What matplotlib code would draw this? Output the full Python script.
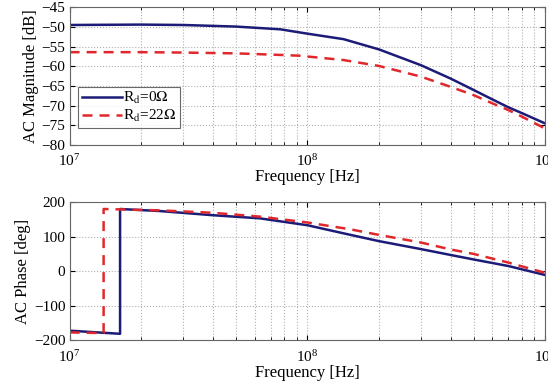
import numpy as np
import matplotlib
matplotlib.use("Agg")
import matplotlib.pyplot as plt

plt.rcParams['font.family'] = ['Liberation Serif', 'DejaVu Serif']
plt.rcParams['mathtext.fontset'] = 'stix'

### Data ###
# magnitude [dB]
f_mag = [1e7, 2e7, 3e7, 5e7, 7.7e7, 9.3e7, 1e8, 1.42e8, 2e8, 3e8, 4e8, 5e8, 6e8, 7e8, 8e8, 1e9]
mag_r0 = [-49.5, -49.4, -49.5, -49.9, -50.6, -51.4, -51.7, -53.1, -55.7, -59.7,
          -63.1, -66.0, -68.4, -70.4, -71.9, -74.5]
mag_r22 = [-56.4, -56.4, -56.5, -56.7, -57.1, -57.3, -57.5, -58.4, -59.9, -62.6,
           -65.2, -67.3, -69.4, -71.1, -72.8, -75.8]

# phase [deg], the wrap at +-180 is kept as a vertical step
f_ph_r0 = [1e7, 1.63e7, 1.63e7, 2.4e7, 4e7, 6.3e7, 1e8, 1.52e8, 2e8, 3e8, 4e8, 5e8, 7e8, 1e9]
ph_r0 = [-172, -181, 180, 174, 162, 153, 133, 105, 87, 64, 47, 34, 15, -11]
f_ph_r22 = [1e7, 1.39e7, 1.39e7, 2.4e7, 4e7, 6.3e7, 1e8, 1.52e8, 2e8, 3e8, 4e8, 5e8, 7e8, 1e9]
ph_r22 = [-177, -179, 180, 176, 169, 158, 141, 121, 105, 83, 63, 50, 25, -5]

labels = [r'R$_{\rm d}$=0$\Omega$', r'R$_{\rm d}$=22$\Omega$']

navy = '#1c1c78'
red = '#e0282c'

fig = plt.figure(figsize=(5.48, 3.82), dpi=100)
ax1 = fig.add_axes([0.127, 0.620, 0.868, 0.361])
ax2 = fig.add_axes([0.127, 0.109, 0.868, 0.362])

ax1.semilogx(f_mag, mag_r0, color=navy, lw=1.8, label=labels[0])
ax1.semilogx(f_mag, mag_r22, color=red, lw=1.8, dashes=(4, 2.8), label=labels[1])
ax1.set_ylim(-80, -45)
ax1.set_yticks(np.arange(-80, -44, 5))
ax1.set_ylabel('AC Magnitude [dB]', fontsize=12, labelpad=2)
leg = ax1.legend(loc='lower left', bbox_to_anchor=(0.018, 0.125), fontsize=11,
                 handlelength=2.6, handletextpad=0.1, fancybox=False,
                 borderpad=0.25, labelspacing=0.1, borderaxespad=0)
leg.get_frame().set_edgecolor('#444444')
leg.get_frame().set_linewidth(0.8)

ax2.semilogx(f_ph_r0, ph_r0, color=navy, lw=1.8)
ax2.semilogx(f_ph_r22, ph_r22, color=red, lw=1.8, dashes=(4, 2.8))
ax2.set_ylim(-200, 200)
ax2.set_yticks([-200, -100, 0, 100, 200])
ax2.set_ylabel('AC Phase [deg]', fontsize=12, labelpad=2)

for ax in [ax1, ax2]:
    ax.set_xlim(1e7, 1e9)
    ax.set_xlabel('Frequency [Hz]', fontsize=12, labelpad=0)
    ax.grid(True, which='major', ls=':', color='#b0b0b0', lw=0.8)
    ax.grid(True, which='minor', axis='x', ls=':', color='#b0b0b0', lw=0.8)
    ax.tick_params(which='both', direction='in', top=True, right=True)
    ax.tick_params(axis='y', labelsize=11, pad=3)
    ax.tick_params(axis='x', labelsize=11, pad=6)
    ax.tick_params(which='minor', length=2)
    for s in ax.spines.values():
        s.set_color('#666666')
        s.set_linewidth(0.8)

fig.savefig('out.png', dpi=100)
